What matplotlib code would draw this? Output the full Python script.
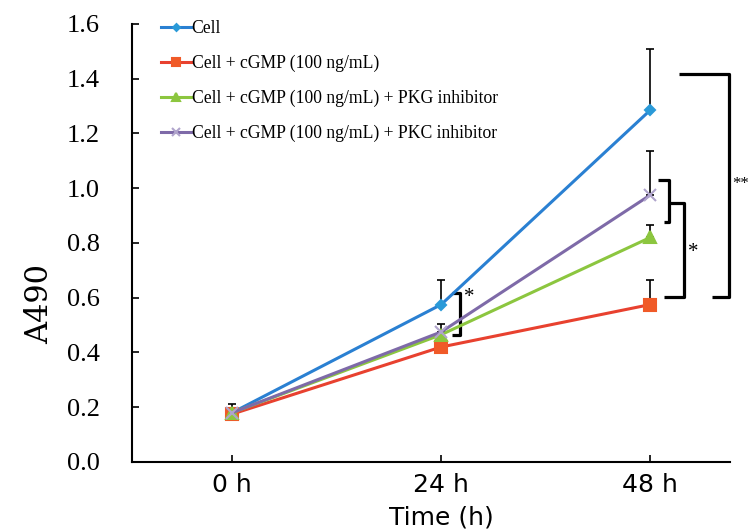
import numpy as np
import matplotlib.pyplot as plt

# Values
times = ['0 h', '24 h', '48 h']
labels = ['Cell',
          'Cell + cGMP (100 ng/mL)',
          'Cell + cGMP (100 ng/mL) + PKG inhibitor',
          'Cell + cGMP (100 ng/mL) + PKC inhibitor']
cell = [0.18, 0.575, 1.285]
cgmp = [0.175, 0.42, 0.575]
pkg = [0.18, 0.465, 0.82]
pkc = [0.18, 0.475, 0.975]
# upper error (only plus side drawn)
cell_err = [0.03, 0.09, 0.225]
cgmp_err = [0.0, 0.0, 0.09]
pkg_err = [0.0, 0.0, 0.045]
pkc_err = [0.0, 0.03, 0.16]

series = [cell, cgmp, pkg, pkc]
errors = [cell_err, cgmp_err, pkg_err, pkc_err]
colors = ['#2a80d2', '#e8412f', '#8cc63f', '#7e6aa8']
mcolors = ['#2a9ad8', '#f05a28', '#8cc63f', '#b0a4cc']
markers = ['D', 's', '^', 'x']
msizes = [5, 8, 8, 9]

fig = plt.figure(figsize=(7.53, 5.32), dpi=100)
ax = fig.add_axes([0.175, 0.1316, 0.794, 0.8234])

x = np.arange(len(times))
handles = []
for s, e, c, mc, m, ms, lab in zip(series, errors, colors, mcolors, markers, msizes, labels):
    ax.errorbar(x, s, yerr=[np.zeros(len(e)), e], fmt='none', ecolor='black',
                elinewidth=1.2, capsize=3, capthick=1.2, zorder=2)
    h, = ax.plot(x, s, color=c, lw=2.2, marker=m, markersize=ms,
                 markerfacecolor=mc, markeredgecolor=mc, markeredgewidth=1.5,
                 label=lab, zorder=3)
    handles.append(h)

ax.set_xlim(-0.48, 2.38)
ax.set_ylim(0, 1.6)
ax.set_yticks(np.arange(0, 1.61, 0.2))
ax.set_yticklabels(['%.1f' % v for v in np.arange(0, 1.61, 0.2)],
                   fontfamily='Liberation Serif', fontsize=19)
ax.set_xticks(x)
ax.set_xticklabels(times, fontfamily='DejaVu Sans', fontsize=18)
ax.tick_params(direction='in', length=5, width=1.2)
ax.tick_params(axis='y', pad=23)
ax.tick_params(axis='x', pad=8)
ax.spines['top'].set_visible(False)
ax.spines['right'].set_visible(False)
for sp in ['left', 'bottom']:
    ax.spines[sp].set_linewidth(1.5)

ax.set_ylabel('A490', fontfamily='DejaVu Serif', fontsize=22)
ax.yaxis.set_label_coords(-0.128, 0.36)
ax.set_xlabel('Time (h)', fontfamily='DejaVu Sans', fontsize=18)
ax.xaxis.set_label_coords(0.518, -0.1)

leg = ax.legend(handles=handles, loc='upper left', bbox_to_anchor=(0.022, 1.045),
                frameon=False, prop={'family': 'Liberation Serif', 'size': 12.7},
                handlelength=1.7, handletextpad=0.05, labelspacing=1.0,
                markerscale=0.7)

# significance brackets
kw = dict(color='black', lw=2.3, clip_on=False, solid_capstyle='butt')
ax.plot([1.053, 1.09, 1.09, 1.053], [0.617, 0.617, 0.464, 0.464], **kw)
ax.text(1.11, 0.585, '*', fontsize=15, fontfamily='Liberation Serif')

ax.plot([2.038, 2.091, 2.091, 2.067], [1.03, 1.03, 0.877, 0.877], **kw)
ax.plot([2.091, 2.163, 2.163, 2.067], [0.946, 0.946, 0.603, 0.603], **kw)
ax.text(2.18, 0.75, '*', fontsize=15, fontfamily='Liberation Serif')

ax.plot([2.139, 2.378, 2.378, 2.297], [1.417, 1.417, 0.603, 0.603], **kw)
ax.text(2.392, 1.0, '**', fontsize=12, fontfamily='Liberation Serif', clip_on=False)

plt.savefig('out.png', dpi=100)
